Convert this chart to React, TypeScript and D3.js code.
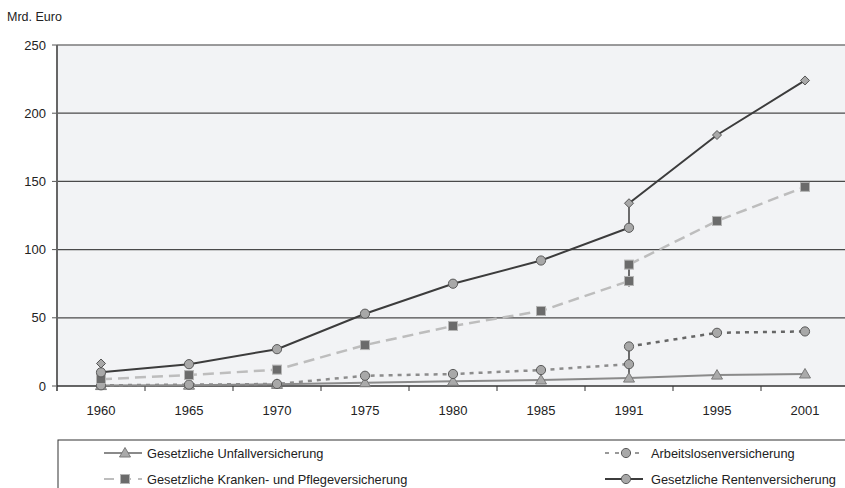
import React from "react";
import { scaleBand, scaleLinear, line } from "d3";

const width = 845;
const height = 488;
const margin = { top: 45, right: -4, bottom: 102, left: 57 };

// Data (Mrd. Euro)
const years = ["1960", "1965", "1970", "1975", "1980", "1985", "1991", "1995", "2001"];
const yTicks = [0, 50, 100, 150, 200, 250];

const renteWest = [10, 16, 27, 53, 75, 92, 116, null, null];
const renteGesamt = [16.5, null, null, null, null, null, 134, 184, 224];
const krankenWest = [5, 8, 12, 30, 44, 55, 77, null, null];
const krankenGesamt = [null, null, null, null, null, null, 89, 121, 146];
const arbeitWest = [0.5, 1, 1.5, 7.5, 8.8, 11.7, 16, null, null];
const arbeitGesamt = [null, null, null, null, null, null, 29, 39, 40];
const unfall = [0.3, 0.6, 1.2, 2.4, 3.4, 4.4, 5.8, 8, 8.8];

// vertical connectors at 1991 [from, to]
const connectors = [
  [116, 134],
  [73, 89],
  [6, 29],
];

const legendItems = [
  { label: "Gesetzliche Unfallversicherung", kind: "unfall" },
  { label: "Arbeitslosenversicherung", kind: "arbeit" },
  { label: "Gesetzliche Kranken- und Pflegeversicherung", kind: "kranken" },
  { label: "Gesetzliche Rentenversicherung", kind: "rente" },
];

const font = "'Liberation Sans', Arial, sans-serif";

const Marker = ({ kind, x, y }) => {
  if (kind === "rente" || kind === "arbeit")
    return <circle cx={x} cy={y} r={4.6} fill="#a8a8a8" stroke="#5a5a5a" strokeWidth={1} />;
  if (kind === "kranken")
    return <rect x={x - 4.5} y={y - 4.5} width={9} height={9} fill="#6b6b6b" stroke="#b5b5b5" strokeWidth={1} />;
  if (kind === "unfall")
    return (
      <path
        d={`M${x},${y - 5.5} L${x + 5.5},${y + 4} L${x - 5.5},${y + 4} Z`}
        fill="#aaaaaa"
        stroke="#7a7a7a"
        strokeWidth={1}
      />
    );
  // diamond
  return (
    <path
      d={`M${x},${y - 4.5} L${x + 4.5},${y} L${x},${y + 4.5} L${x - 4.5},${y} Z`}
      fill="#a8a8a8"
      stroke="#555"
      strokeWidth={1}
    />
  );
};

const styles = {
  rente: { stroke: "#3c3c3c", strokeWidth: 2, dash: null },
  kranken: { stroke: "#bdbdbd", strokeWidth: 2.5, dash: "11,6" },
  arbeit: { stroke: "#8c8c8c", strokeWidth: 2.5, dash: "4,5" },
  arbeit2: { stroke: "#666", strokeWidth: 2.5, dash: "4,5" },
  unfall: { stroke: "#8a8a8a", strokeWidth: 2, dash: null },
};

export default function App() {
  const x = scaleBand()
    .domain(years)
    .range([margin.left, width - margin.right])
    .padding(0);
  const y = scaleLinear()
    .domain([0, 250])
    .range([height - margin.bottom, margin.top]);
  const cx = (i) => x(years[i]) + x.bandwidth() / 2;

  const lineGen = line()
    .defined((d) => d != null)
    .x((d, i) => cx(i))
    .y((d) => y(d));

  // the standalone 1960 diamond is not joined to the 1991+ line
  const renteGesamtLine = renteGesamt.map((d, i) => (i === 0 ? null : d));

  const series = [
    { data: unfall, st: styles.unfall, marker: "unfall" },
    { data: arbeitWest, st: styles.arbeit, marker: "arbeit" },
    { data: arbeitGesamt, st: styles.arbeit2, marker: "arbeit" },
    { data: krankenWest, st: styles.kranken, marker: "kranken" },
    { data: krankenGesamt, st: styles.kranken, marker: "kranken" },
    { data: renteWest, st: styles.rente, marker: "rente" },
    { data: renteGesamtLine, st: styles.rente, marker: "diamond" },
  ];

  const x0 = margin.left;
  const y0 = y(0);
  const i1991 = years.indexOf("1991");

  return (
    <svg
      width={width}
      height={height}
      style={{ position: "absolute", left: 0, top: 0, background: "#fff" }}
      fontFamily={font}
    >
      <rect x={x0} y={margin.top} width={width - x0} height={y0 - margin.top} fill="#f2f3f5" />

      {/* grid + y axis */}
      {yTicks.map((t) => (
        <g key={t}>
          {t > 0 && (
            <line x1={x0} x2={width} y1={y(t)} y2={y(t)} stroke={t === 250 ? "#7a7a7a" : "#4a4a4a"} strokeWidth={1.3} />
          )}
          <line x1={x0 - 5} x2={x0} y1={y(t)} y2={y(t)} stroke="#555" />
          <text x={x0 - 11} y={y(t) + 4.5} textAnchor="end" fontSize={13} fill="#222">
            {t}
          </text>
        </g>
      ))}
      <line x1={x0} x2={x0} y1={margin.top} y2={y0 + 5} stroke="#666" strokeWidth={2} />
      <text x={7} y={21} fontSize={12.5} fill="#222">
        Mrd. Euro
      </text>

      {/* x axis */}
      <line x1={x0} x2={width} y1={y0} y2={y0} stroke="#333" strokeWidth={1.5} />
      {years.map((yr, i) => (
        <g key={yr}>
          {i > 0 && <line x1={x(yr)} x2={x(yr)} y1={y0} y2={y0 + 5} stroke="#333" />}
          <text x={cx(i)} y={414.5} textAnchor="middle" fontSize={13} fill="#222">
            {yr}
          </text>
        </g>
      ))}

      {/* connectors at 1991 */}
      {connectors.map(([a, b], k) => (
        <line key={k} x1={cx(i1991)} x2={cx(i1991)} y1={y(a)} y2={y(b)} stroke="#222" strokeWidth={1.3} />
      ))}

      {/* lines */}
      {series.map((s, k) => (
        <path
          key={k}
          d={lineGen(s.data)}
          fill="none"
          stroke={s.st.stroke}
          strokeWidth={s.st.strokeWidth}
          strokeDasharray={s.st.dash || undefined}
        />
      ))}

      {/* markers */}
      {series.map((s, k) =>
        (s.marker === "diamond" ? renteGesamt : s.data).map((d, i) =>
          d == null ? null : <Marker key={`${k}-${i}`} kind={s.marker} x={cx(i)} y={y(d)} />
        )
      )}

      {/* legend */}
      <rect x={58} y={440} width={800} height={60} fill="#fff" stroke="#333" strokeWidth={1} />
      {legendItems.map((it, k) => {
        const col = k % 2;
        const row = Math.floor(k / 2);
        const lx = col === 0 ? 104 : 605;
        const ly = row === 0 ? 453 : 479;
        const st = styles[it.kind];
        return (
          <g key={it.label}>
            <line
              x1={lx}
              x2={lx + 38}
              y1={ly}
              y2={ly}
              stroke={it.kind === "arbeit" ? "#999" : st.stroke}
              strokeWidth={2}
              strokeDasharray={it.kind === "arbeit" ? "4,6" : it.kind === "kranken" ? "10,7" : undefined}
            />
            <Marker kind={it.kind} x={lx + 21} y={ly} />
            <text x={col === 0 ? 147 : 651} y={ly + 4.5} fontSize={12.8} fill="#222">
              {it.label}
            </text>
          </g>
        );
      })}
    </svg>
  );
}
